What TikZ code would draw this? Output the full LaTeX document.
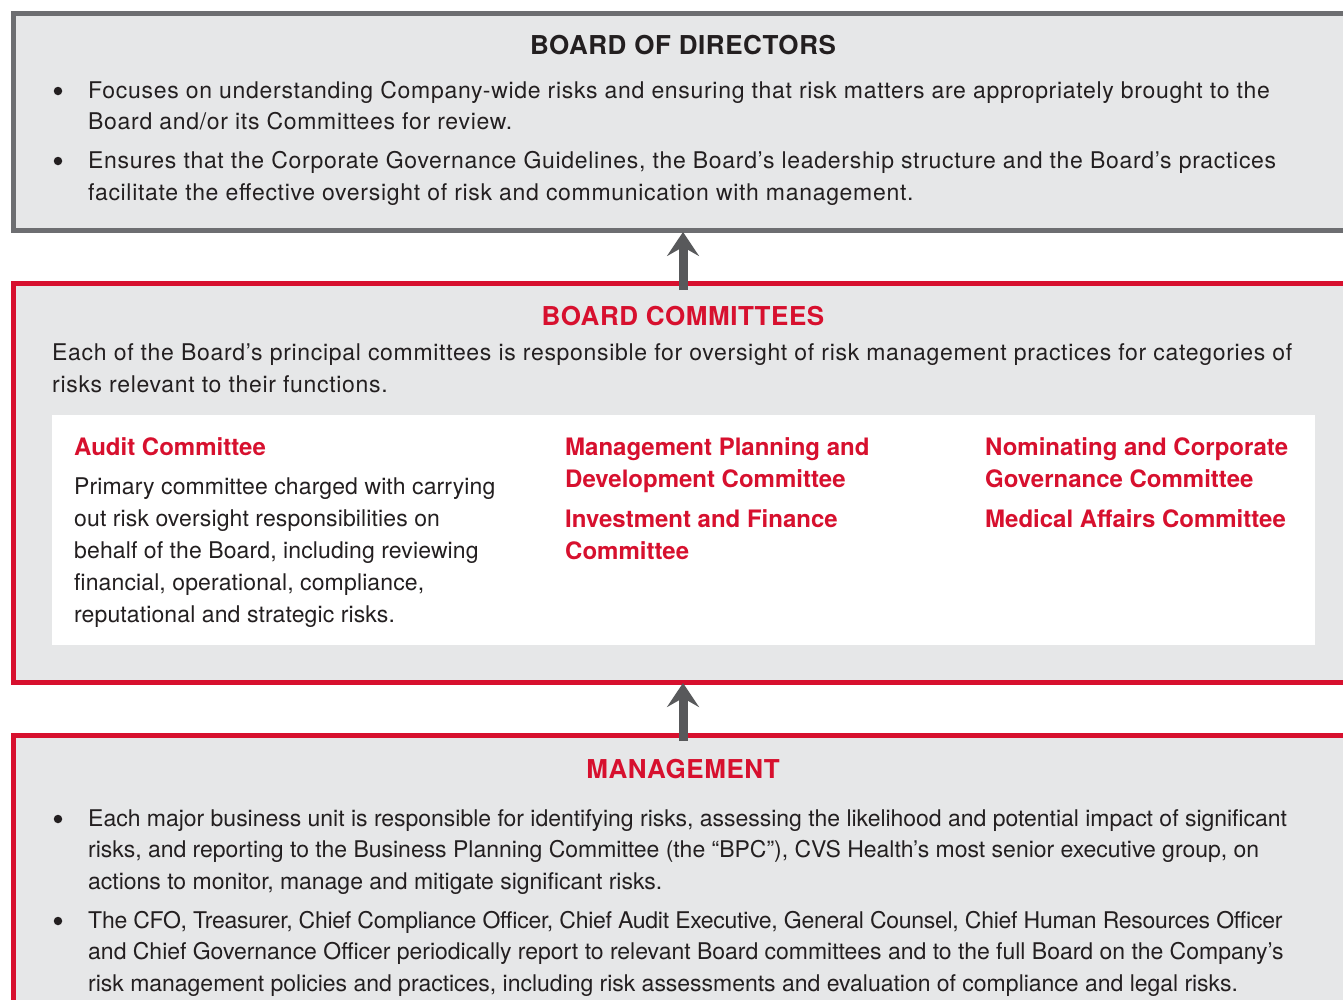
\documentclass[tikz,border=0pt]{standalone}
\usepackage{fontspec}
\setmainfont{TeX Gyre Heros}
\usetikzlibrary{arrows.meta}
\definecolor{cvsred}{HTML}{D7102E}
\definecolor{bordergray}{HTML}{6D6E71}
\definecolor{panel}{HTML}{E6E7E8}
\definecolor{ink}{HTML}{231F20}
\definecolor{arrowgray}{HTML}{58595B}
\tikzset{
  body/.style={anchor=base west, inner sep=0pt, align=left, text=ink, font=\fontsize{23}{31.5}\selectfont\addfontfeature{LetterSpace=3.0}},
  mgbody/.style={body, font=\fontsize{23}{31.5}\selectfont\addfontfeature{LetterSpace=-0.1}},
  boxbody/.style={body, font=\fontsize{23}{32}\selectfont\addfontfeature{LetterSpace=0.5}},
  bul/.style={circle, fill=ink, inner sep=0pt, minimum size=8.5pt},
  title/.style={anchor=base, inner sep=0pt, font=\fontsize{26}{30}\selectfont\bfseries\addfontfeature{LetterSpace=2.2}},
  subhead/.style={anchor=base west, inner sep=0pt, align=left, text=cvsred, font=\fontsize{24}{32}\selectfont\bfseries},
  bigarrow/.style={draw=arrowgray, line width=9pt, -{Stealth[length=24pt,width=32pt,inset=9pt]}},
}
\begin{document}
\begin{tikzpicture}[x=1pt,y=-1pt]
\useasboundingbox (0,0) rectangle (1343,999);
% Board of directors panel
\fill[panel] (13.5,13) rectangle (1350,230.5);
\draw[bordergray, line width=5pt] (1350,13) -- (13.5,13) -- (13.5,230.5) -- (1350,230.5);
\coordinate (bodBottom) at (683,233);
% Committees panel
\fill[panel] (13.5,283.5) rectangle (1350,682.5);
\draw[cvsred, line width=5pt] (1350,283.5) -- (13.5,283.5) -- (13.5,682.5) -- (1350,682.5);
\coordinate (bcTop) at (683,281);
\coordinate (bcBottom) at (683,685);
\fill[white] (52,415) rectangle (1315,645);
% Management panel
\fill[panel] (13.5,735.5) rectangle (1350,1010);
\draw[cvsred, line width=5pt] (1350,735.5) -- (13.5,735.5) -- (13.5,1010);
\coordinate (mgTop) at (683,733);

% arrows
\draw[bigarrow] ([yshift=-9pt]bcTop) -- ([yshift=1pt]bodBottom);
\draw[bigarrow] ([yshift=-8pt]mgTop) -- ([yshift=2pt]bcBottom);

% Board texts
\node[title, text=ink] (bodT) at (683,54) {BOARD OF DIRECTORS};
\node[bul] (b1) at (58,91) {};
\node[body] (bt1) at (88,129.5) {Focuses on understanding Company-wide risks and ensuring that risk matters are appropriately brought to the\\Board and/or its Committees for review.};
\node[bul] (b2) at (58,161) {};
\node[body] (bt2) at (88,200) {Ensures that the Corporate Governance Guidelines, the Board’s leadership structure and the Board’s practices\\facilitate the effective oversight of risk and communication with management.};

% Committees texts
\node[title, text=cvsred] (bcT) at (683,325) {BOARD COMMITTEES};
\node[body] (bcIntro) at (52,392) {Each of the Board’s principal committees is responsible for oversight of risk management practices for categories of\\risks relevant to their functions.};
\node[subhead] (audit) at (74,455) {Audit Committee};
\node[boxbody] (auditTxt) at (74,622) {Primary committee charged with carrying\\out risk oversight responsibilities on\\behalf of the Board, including reviewing\\financial, operational, compliance,\\reputational and strategic risks.};
\node[subhead] (mpd) at (565,487) {Management Planning and\\Development Committee};
\node[subhead] (inv) at (565,559) {Investment and Finance\\Committee};
\node[subhead] (nom) at (985,487) {Nominating and Corporate\\Governance Committee};
\node[subhead] (med) at (985,527) {Medical Affairs Committee};

% Management texts
\node[title, text=cvsred] (mgT) at (683,778) {MANAGEMENT};
\node[bul] (m1) at (58,819) {};
\node[mgbody] (mt1) at (88,889) {Each major business unit is responsible for identifying risks, assessing the likelihood and potential impact of significant\\risks, and reporting to the Business Planning Committee (the “BPC”), CVS Health’s most senior executive group, on\\actions to monitor, manage and mitigate significant risks.};
\node[bul] (m2) at (58,921) {};
\node[mgbody] (mt2) at (88,991) {{\addfontfeature{LetterSpace=-1.2}The CFO, Treasurer, Chief Compliance Officer, Chief Audit Executive, General Counsel, Chief Human Resources Officer}\\and Chief Governance Officer periodically report to relevant Board committees and to the full Board on the Company’s\\risk management policies and practices, including risk assessments and evaluation of compliance and legal risks.};
\end{tikzpicture}
\end{document}
